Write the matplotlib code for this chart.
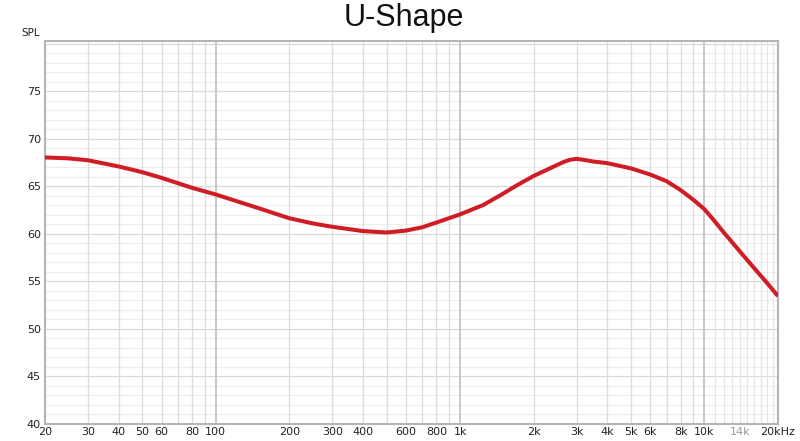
import matplotlib
matplotlib.use("Agg")
import matplotlib.pyplot as plt
from matplotlib.ticker import FixedLocator, NullFormatter

# frequency response (Hz, dB SPL)
FREQ = [20, 25, 30, 40, 50, 60, 80, 100, 150, 200, 250, 300, 400, 500,
        600, 700, 800, 1000, 1245, 1457, 1703, 2000, 2330, 2640, 2810, 3000,
        3200, 3500, 4000, 5000, 6000, 7000, 8000, 9000, 10000, 11000, 12000,
        13000, 14000, 15000, 16000, 18000, 20000]
SPL = [68.05, 67.95, 67.75, 67.1, 66.5, 65.9, 64.85, 64.15, 62.7, 61.65,
       61.1, 60.75, 60.3, 60.15, 60.35, 60.7, 61.2, 62.06, 63.05, 64.05,
       65.1, 66.1, 66.9, 67.55, 67.8, 67.9, 67.8, 67.62, 67.45, 66.9, 66.25,
       65.55, 64.6, 63.6, 62.6, 61.35, 60.15, 59.1, 58.12, 57.22, 56.38,
       54.87, 53.45]

X_TICKS = [20, 30, 40, 50, 60, 80, 100, 200, 300, 400, 600, 800, 1000,
           2000, 3000, 4000, 5000, 6000, 8000, 10000, 14000, 20000]
X_LABELS = ["20", "30", "40", "50", "60", "80", "100", "200", "300", "400",
            "600", "800", "1k", "2k", "3k", "4k", "5k", "6k", "8k", "10k",
            "14k", "20kHz"]
Y_TICKS = [40, 45, 50, 55, 60, 65, 70, 75]

MINOR_X = ([f for f in range(20, 100, 10)] + [f for f in range(200, 1000, 100)]
           + [f for f in range(2000, 10000, 1000)]
           + [f for f in range(11000, 20001, 1000)])
MAJOR_X = [100, 1000, 10000]

fig = plt.figure(figsize=(8, 4.41), dpi=100)
ax = fig.add_axes([45 / 800, 1 - 424 / 441, (778 - 45) / 800, (424 - 41) / 441])
ax.set_xscale("log")
ax.set_xlim(20, 20000)
ax.set_ylim(40, 80.3)

# grid: 1 dB minor, 5 dB major; log-decade verticals
for y in range(41, 81):
    if y % 5:
        ax.axhline(y, color="#ededed", lw=0.8, zorder=0)
for y in range(45, 81, 5):
    ax.axhline(y, color="#d9d9d9", lw=0.9, zorder=0)
for f in MINOR_X:
    c = "#e6e6e6" if f > 10000 else "#dcdcdc"
    ax.axvline(f, color=c, lw=0.9, zorder=0)
for f in MAJOR_X:
    ax.axvline(f, color="#c4c4c4", lw=1.3, zorder=0)

ax.plot(FREQ, SPL, color="#d01c24", lw=2.9, solid_capstyle="butt",
        solid_joinstyle="round", zorder=3)

ax.xaxis.set_major_locator(FixedLocator(X_TICKS))
ax.xaxis.set_minor_locator(FixedLocator([]))
ax.xaxis.set_minor_formatter(NullFormatter())
ax.set_xticks(X_TICKS)
ax.set_xticklabels(X_LABELS)
ax.set_yticks(Y_TICKS)
ax.set_yticklabels([str(v) for v in Y_TICKS])
ax.tick_params(axis="both", length=0, labelsize=8, colors="#222222")
ax.tick_params(axis="x", pad=2.5)
ax.tick_params(axis="y", pad=3)
for lbl in ax.get_xticklabels():
    if lbl.get_text() == "14k":
        lbl.set_color("#9a9a9a")

for s in ax.spines.values():
    s.set_color("#b5b5b5")
    s.set_linewidth(1.5)

fig.text(31 / 800, 1 - 33 / 441, "SPL", fontsize=7.5, color="#222222",
         ha="center", va="center")
fig.text(404 / 800, 1 - 26 / 441, "U-Shape", fontsize=22,
         family="Liberation Sans", ha="center", va="baseline", color="#111111")

fig.savefig("out.png", dpi=100)
